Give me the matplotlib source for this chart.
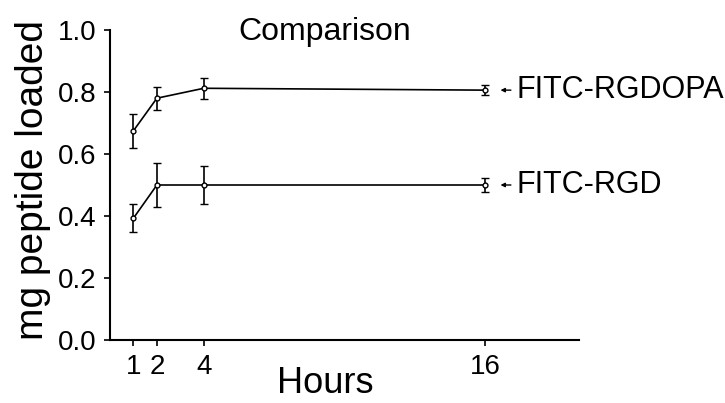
import matplotlib.pyplot as plt

plt.rcParams['font.family'] = ['Liberation Sans', 'DejaVu Sans']

# Data
hours = [1, 2, 4, 16]
rgdopa = [0.675, 0.78, 0.812, 0.806]
rgdopa_err = [0.055, 0.037, 0.034, 0.015]
rgd = [0.393, 0.50, 0.50, 0.50]
rgd_err = [0.045, 0.07, 0.062, 0.022]
series_names = ["FITC-RGDOPA", "FITC-RGD"]
xticks = [1, 2, 4, 16]
yticks = [0.0, 0.2, 0.4, 0.6, 0.8, 1.0]

fig = plt.figure(figsize=(7.25, 4.03), dpi=100)
ax = fig.add_axes([110 / 725, 1 - 340 / 403, 469 / 725, 310 / 403])

for vals, errs, name in [(rgdopa, rgdopa_err, series_names[0]), (rgd, rgd_err, series_names[1])]:
    ax.errorbar(hours, vals, yerr=errs, color='black', lw=1.2, elinewidth=1.2,
                capsize=3, capthick=1.2, marker='o', ms=3.5, mfc='white', mec='black', mew=1)
    ax.annotate(name, xy=(16, vals[-1]), xytext=(22.5, 0), textcoords='offset points',
                va='center', ha='left', fontsize=22,
                arrowprops=dict(arrowstyle='-|>', color='black', lw=1, mutation_scale=6,
                                shrinkA=2, shrinkB=11))

ax.set_xlim(0, 20)
ax.set_ylim(0, 1.0)
ax.set_xticks(xticks)
ax.set_yticks(yticks)
ax.set_yticklabels([f"{v:.1f}" for v in yticks])
ax.tick_params(axis='both', labelsize=20, length=4, width=1.2, direction='out')
ax.tick_params(axis='y', pad=6)
ax.tick_params(axis='x', pad=6)

for s in ['top', 'right']:
    ax.spines[s].set_visible(False)
for s in ['left', 'bottom']:
    ax.spines[s].set_linewidth(1.5)

ax.set_ylabel("mg peptide loaded", fontsize=28)
ax.yaxis.set_label_coords(-0.125, 0.516)
ax.set_xlabel("Hours", fontsize=26)
ax.xaxis.set_label_coords((325 - 110) / 469, -0.085)

fig.text(325 / 725, 1 - 32 / 403, "Comparison", ha='center', va='center', fontsize=23)

fig.savefig("out.png", dpi=100)
